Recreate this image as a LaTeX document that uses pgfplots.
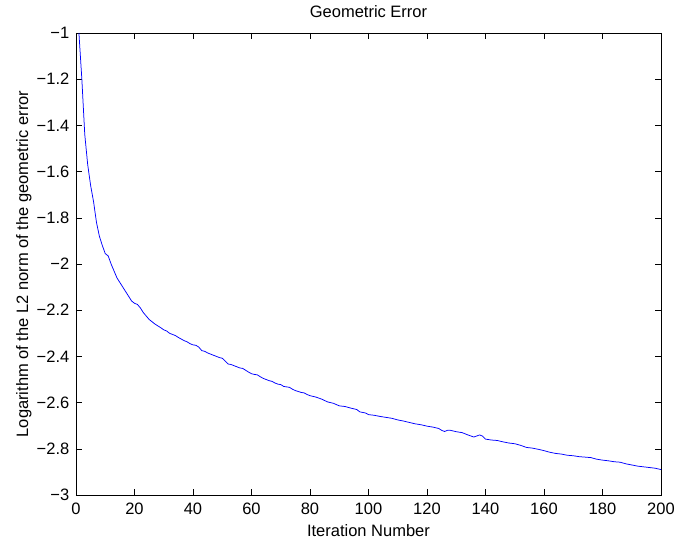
\documentclass[border=0pt]{standalone}
\usepackage{fontspec}
\setmainfont{Liberation Sans}
\usepackage{pgfplots}
\pgfplotsset{compat=1.18}
\begin{document}
\fontsize{16.5bp}{19bp}\selectfont
\begin{tikzpicture}
\begin{axis}[
  scale only axis,
  width=585bp, height=462bp,
  xmin=0, xmax=200, ymin=-3, ymax=-1,
  xtick={0,20,...,200},
  ytick={-3,-2.8,-2.6,-2.4,-2.2,-2,-1.8,-1.6,-1.4,-1.2,-1},
  yticklabels={−3,−2.8,−2.6,−2.4,−2.2,−2,−1.8,−1.6,−1.4,−1.2,−1},
  /pgf/number format/assume math mode=true,
  tick align=inside,
  major tick length=6bp,
  tick style={black, line width=0.5pt},
  axis line style={black, line width=0.7pt},
  ticklabel style={font=\fontsize{16.5bp}{19bp}\selectfont},
  yticklabel style={xshift=-1bp},
  xticklabel style={yshift=-2bp},
  label style={font=\fontsize{16.5bp}{19bp}\selectfont},
  title style={font=\fontsize{16.5bp}{19bp}\selectfont, at={(0.5,1)}, anchor=south, yshift=4bp},
  title={Geometric Error},
  xlabel={Iteration Number},
  ylabel={Logarithm of the L2 norm of the geometric error},
  xlabel style={yshift=1bp},
  ylabel style={yshift=-6bp},
  clip=true,
]
\addplot[blue, line width=0.75pt] coordinates {
(1,-1.00) (2,-1.20) (3,-1.44) (4,-1.57) (5,-1.66) (6,-1.73) (7,-1.82) (8,-1.88) (9,-1.92) (10,-1.955)
(11,-1.965) (12,-2.00) (13,-2.03) (14,-2.06) (15,-2.08) (16,-2.10) (17,-2.12) (18,-2.14) (19,-2.16) (20,-2.17)
(21,-2.175) (22,-2.19) (23,-2.21) (24,-2.225) (25,-2.24) (26,-2.25) (27,-2.26) (28,-2.268) (29,-2.276) (30,-2.285)
(31,-2.29) (32,-2.30) (33,-2.305) (34,-2.31) (35,-2.318) (36,-2.325) (37,-2.332) (38,-2.337) (39,-2.345) (40,-2.35)
(41,-2.352) (42,-2.36) (43,-2.375) (44,-2.378) (45,-2.385) (46,-2.39) (47,-2.395) (48,-2.40) (49,-2.405) (50,-2.408)
(51,-2.42) (52,-2.433) (53,-2.435) (54,-2.44) (55,-2.445) (56,-2.45) (57,-2.452) (58,-2.46) (59,-2.468) (60,-2.475)
(61,-2.478) (62,-2.48) (63,-2.488) (64,-2.495) (65,-2.50) (66,-2.505) (67,-2.508) (68,-2.515) (69,-2.52) (70,-2.522)
(71,-2.53) (72,-2.532) (73,-2.534) (74,-2.542) (75,-2.548) (76,-2.552) (77,-2.556) (78,-2.558) (79,-2.565) (80,-2.57)
(81,-2.573) (82,-2.576) (84,-2.585) (86,-2.597) (88,-2.603) (90,-2.614) (92,-2.617) (94,-2.624) (96,-2.63) (97,-2.64)
(99,-2.645) (100,-2.652) (102,-2.655) (104,-2.66) (106,-2.664) (108,-2.668) (110,-2.675) (112,-2.68) (114,-2.686) (116,-2.692)
(118,-2.696) (120,-2.702) (122,-2.706) (124,-2.712) (125,-2.72) (126,-2.725) (127,-2.72) (128,-2.72) (130,-2.726) (132,-2.73)
(134,-2.74) (136,-2.749) (138,-2.74) (139,-2.745) (140,-2.758) (142,-2.762) (144,-2.764) (146,-2.77) (148,-2.775) (150,-2.778)
(152,-2.785) (154,-2.794) (156,-2.797) (158,-2.802) (160,-2.808) (162,-2.815) (164,-2.82) (166,-2.823) (168,-2.828) (170,-2.83)
(172,-2.834) (174,-2.836) (176,-2.838) (178,-2.845) (180,-2.849) (182,-2.852) (184,-2.856) (186,-2.858) (188,-2.865) (190,-2.87)
(192,-2.875) (194,-2.878) (196,-2.881) (198,-2.884) (200,-2.89)
};
\end{axis}
\pgfresetboundingbox
\path[use as bounding box] (current axis.south west) ++(-76bp,-49bp) rectangle ([xshift=16bp,yshift=33bp]current axis.north east);
\end{tikzpicture}
\end{document}
